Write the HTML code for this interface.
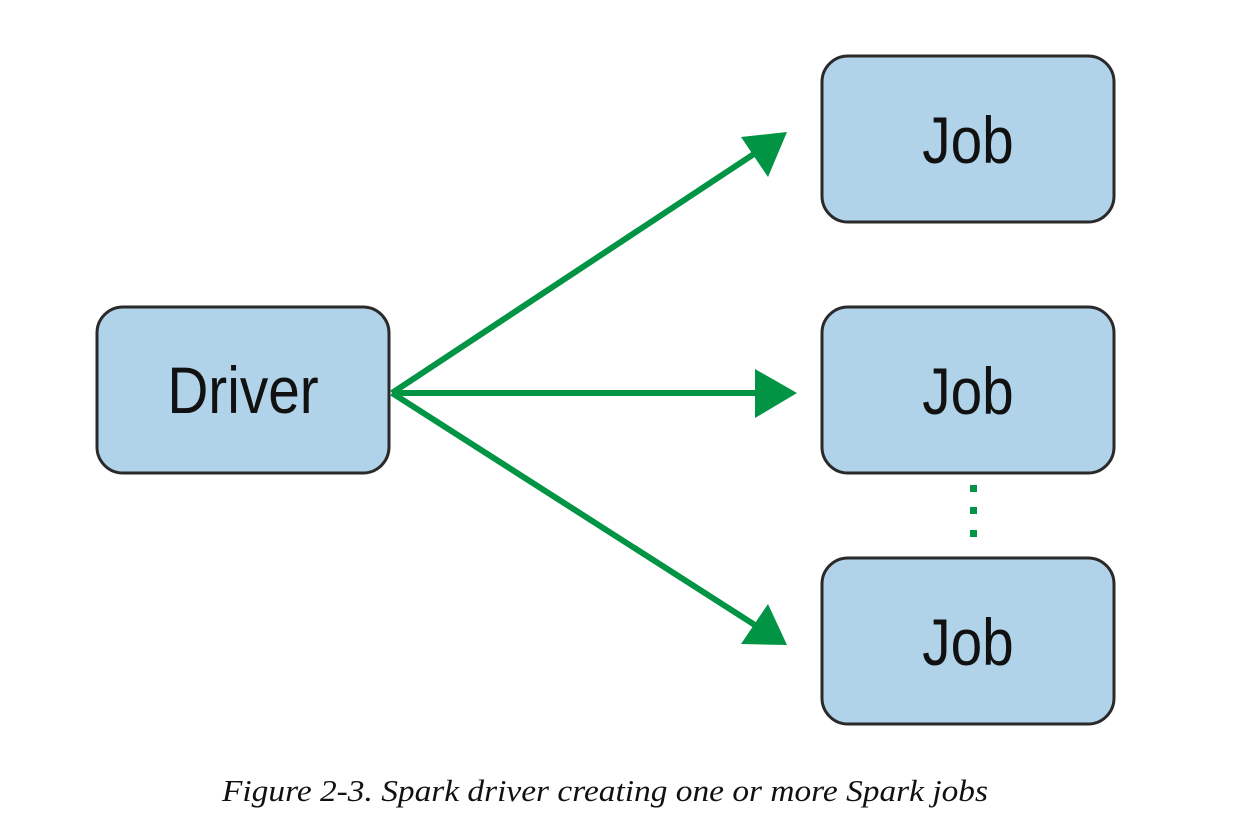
<!DOCTYPE html>
<html><head><style>
body{margin:0;background:#fff;}
</style></head><body>
<svg width="1246" height="832" xmlns="http://www.w3.org/2000/svg">
<g fill="#b0d3e9" stroke="#2a2a2a" stroke-width="3">
<rect x="97" y="307" width="292" height="166" rx="26"/>
<rect x="822" y="56" width="292" height="166" rx="26"/>
<rect x="822" y="307" width="292" height="166" rx="26"/>
<rect x="822" y="558" width="292" height="166" rx="26"/>
</g>
<g font-family="Liberation Sans Narrow, Liberation Sans, sans-serif" font-size="66" fill="#111" text-anchor="middle">
<text x="243" y="413" transform="translate(243 0) scale(0.86 1) translate(-243 0)">Driver</text>
<text x="968" y="163" transform="translate(968 0) scale(0.86 1) translate(-968 0)">Job</text>
<text x="968" y="414" transform="translate(968 0) scale(0.86 1) translate(-968 0)">Job</text>
<text x="968" y="665" transform="translate(968 0) scale(0.86 1) translate(-968 0)">Job</text>
</g>
<g stroke="#009444" stroke-width="6" fill="none">
<line x1="392" y1="393" x2="760" y2="393"/>
<line x1="392" y1="393" x2="760" y2="150"/>
<line x1="392" y1="393" x2="758" y2="627"/>
</g>
<g fill="#009444">
<polygon points="797,393 755,369 755,418"/>
<polygon points="787,132 741,137 768,177"/>
<polygon points="787,645 768,604 741,644"/>
<rect x="970" y="485" width="7" height="7"/>
<rect x="970" y="507" width="7" height="7"/>
<rect x="970" y="530" width="7" height="7"/>
</g>
<text x="222" y="801" textLength="766" lengthAdjust="spacingAndGlyphs" font-family="Liberation Serif, serif" font-style="italic" font-size="31" fill="#111">Figure 2-3. Spark driver creating one or more Spark jobs</text>
</svg>
</body></html>
